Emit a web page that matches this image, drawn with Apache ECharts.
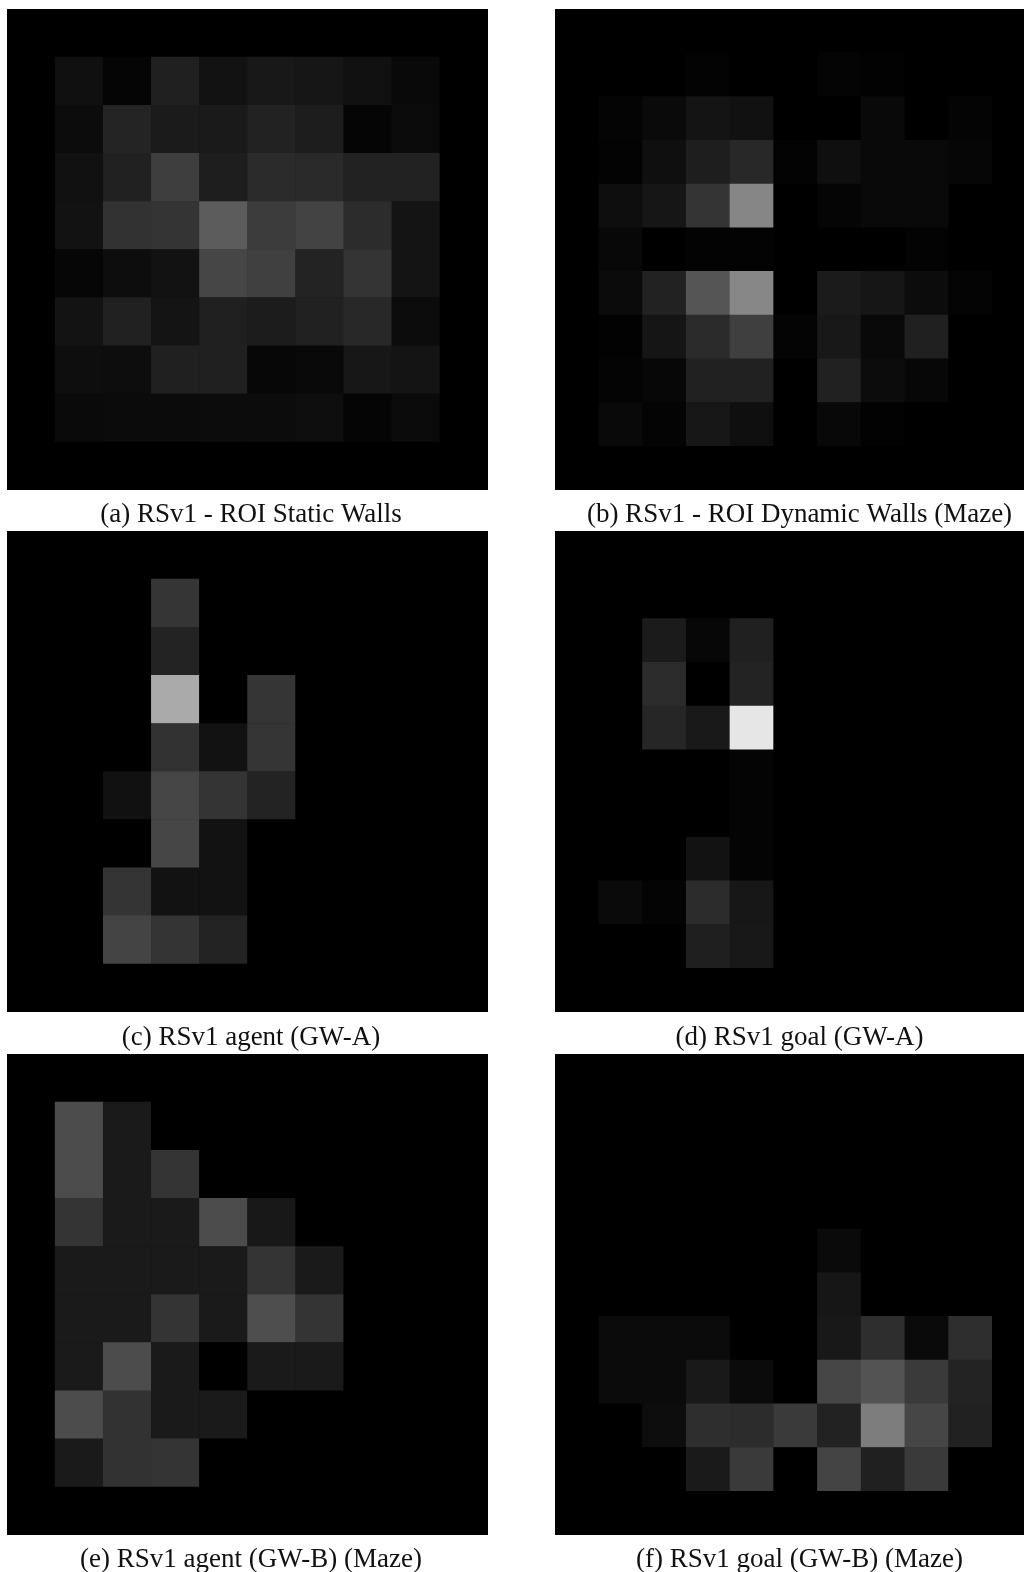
<!DOCTYPE html>
<html>
<head>
<meta charset="utf-8">
<title>RSv1 saliency maps</title>
<style>
html,body{margin:0;padding:0;background:#fff;width:1024px;height:1572px;overflow:hidden}
#maps,#captions{position:absolute;left:0;top:0;width:1024px;height:1572px}
#maps{filter:blur(0.75px);clip-path:path('M7 9H488V490H7Z M555 9H1024V490H555Z M7 531H488V1012H7Z M555 531H1024V1012H555Z M7 1054H488V1535H7Z M555 1054H1024V1535H555Z')}
</style>
<script src="https://cdn.jsdelivr.net/npm/echarts@6/dist/echarts.min.js"></script>
</head>
<body>
<div id="maps"></div>
<div id="captions"></div>
<script>
const captions = [
  '(a) RSv1 - ROI Static Walls',
  '(b) RSv1 - ROI Dynamic Walls (Maze)',
  '(c) RSv1 agent (GW-A)',
  '(d) RSv1 goal (GW-A)',
  '(e) RSv1 agent (GW-B) (Maze)',
  '(f) RSv1 goal (GW-B) (Maze)'
];

const roiStaticWalls = [
  [0,0,0,0,0,0,0,0,0,0],
  [0,16,5,32,18,24,22,17,9,0],
  [0,12,36,27,26,34,29,5,11,0],
  [0,17,33,62,30,43,42,34,34,0],
  [0,18,50,52,92,60,67,44,20,0],
  [0,6,13,18,70,64,35,52,20,0],
  [0,19,33,20,32,28,33,40,12,0],
  [0,14,13,32,32,7,9,23,20,0],
  [0,10,11,11,12,12,14,5,11,0],
  [0,0,0,0,0,0,0,0,0,0]
];
const roiDynamicWalls = [
  [0,0,0,0,0,0,0,0,0,0,0],
  [0,0,0,3,0,0,4,2,0,0,0],
  [0,4,10,20,17,0,0,9,0,4,0],
  [0,3,15,30,40,3,15,9,9,6,0],
  [0,14,22,52,134,0,5,9,9,0,0],
  [0,8,0,3,3,0,0,0,3,0,0],
  [0,11,34,85,135,0,27,22,12,4,0],
  [0,2,21,43,63,4,24,9,32,0,0],
  [0,4,7,33,33,0,33,12,7,0,0],
  [0,9,4,23,15,0,8,2,0,0,0],
  [0,0,0,0,0,0,0,0,0,0,0]
];
const agentGwA = [
  [0,0,0,0,0,0,0,0,0,0],
  [0,0,0,53,0,0,0,0,0,0],
  [0,0,0,35,0,0,0,0,0,0],
  [0,0,0,170,0,53,0,0,0,0],
  [0,0,0,50,18,53,0,0,0,0],
  [0,0,17,70,52,35,0,0,0,0],
  [0,0,0,70,18,0,0,0,0,0],
  [0,0,52,18,18,0,0,0,0,0],
  [0,0,68,52,35,0,0,0,0,0],
  [0,0,0,0,0,0,0,0,0,0]
];
const goalGwA = [
  [0,0,0,0,0,0,0,0,0,0,0],
  [0,0,0,0,0,0,0,0,0,0,0],
  [0,0,27,7,32,0,0,0,0,0,0],
  [0,0,44,0,35,0,0,0,0,0,0],
  [0,0,38,25,230,0,0,0,0,0,0],
  [0,0,0,0,4,0,0,0,0,0,0],
  [0,0,0,0,4,0,0,0,0,0,0],
  [0,0,0,18,4,0,0,0,0,0,0],
  [0,10,4,44,23,0,0,0,0,0,0],
  [0,0,0,31,24,0,0,0,0,0,0],
  [0,0,0,0,0,0,0,0,0,0,0]
];
const agentGwB = [
  [0,0,0,0,0,0,0,0,0,0],
  [0,76,26,0,0,0,0,0,0,0],
  [0,76,26,52,0,0,0,0,0,0],
  [0,52,26,26,76,24,0,0,0,0],
  [0,26,26,26,26,52,26,0,0,0],
  [0,26,26,52,26,78,52,0,0,0],
  [0,26,76,26,0,26,26,0,0,0],
  [0,76,50,26,26,0,0,0,0,0],
  [0,26,50,52,0,0,0,0,0,0],
  [0,0,0,0,0,0,0,0,0,0]
];
const goalGwB = [
  [0,0,0,0,0,0,0,0,0,0,0],
  [0,0,0,0,0,0,0,0,0,0,0],
  [0,0,0,0,0,0,0,0,0,0,0],
  [0,0,0,0,0,0,0,0,0,0,0],
  [0,0,0,0,0,0,10,0,0,0,0],
  [0,0,0,0,0,0,22,0,0,0,0],
  [0,11,11,11,0,0,24,46,10,46,0],
  [0,11,11,25,11,0,70,83,58,35,0],
  [0,0,13,46,44,58,34,125,70,33,0],
  [0,0,0,26,58,0,68,32,58,0,0],
  [0,0,0,0,0,0,0,0,0,0,0]
];

const panels = [roiStaticWalls, roiDynamicWalls, agentGwA, goalGwA, agentGwB, goalGwB];
const lefts = [7, 555];
const tops = [9, 531, 1054];
const side = 481;
const captionX = [251, 799.5];
const captionY = [515, 1038, 1560];

const grid = [], xAxis = [], yAxis = [], series = [], title = [];
panels.forEach((rows, i) => {
  const col = i % 2, row = Math.floor(i / 2);
  const idx = rows.map((_, k) => k);
  grid.push({ left: lefts[col], top: tops[row], width: side, height: side, show: true, backgroundColor: '#000', borderWidth: 0, outerBoundsMode: 'none' });
  xAxis.push({ type: 'category', gridIndex: i, data: idx, show: false });
  yAxis.push({ type: 'category', gridIndex: i, data: idx, inverse: true, show: false });
  const cells = [];
  rows.forEach((r, y) => r.forEach((v, x) => cells.push([x, y, v])));
  series.push({ type: 'heatmap', xAxisIndex: i, yAxisIndex: i, data: cells, progressive: 0, animation: false, itemStyle: { borderWidth: 0 } });
  title.push({
    text: captions[i], left: captionX[col], top: captionY[row], padding: 0, textAlign: 'center', textVerticalAlign: 'middle',
    textStyle: { fontFamily: '"Liberation Serif", serif', fontWeight: 'normal', fontSize: 27, color: '#111111' }
  });
});

const maps = echarts.init(document.getElementById('maps'), null, { renderer: 'canvas' });
maps.setOption({
  animation: false,
  backgroundColor: 'transparent',
  grid, xAxis, yAxis, series,
  visualMap: { show: false, type: 'continuous', min: 0, max: 255, seriesIndex: [0,1,2,3,4,5], inRange: { color: ['#000000', '#ffffff'] } }
});
const caps = echarts.init(document.getElementById('captions'), null, { renderer: 'canvas' });
caps.setOption({ animation: false, backgroundColor: 'transparent', title });
</script>
</body>
</html>
